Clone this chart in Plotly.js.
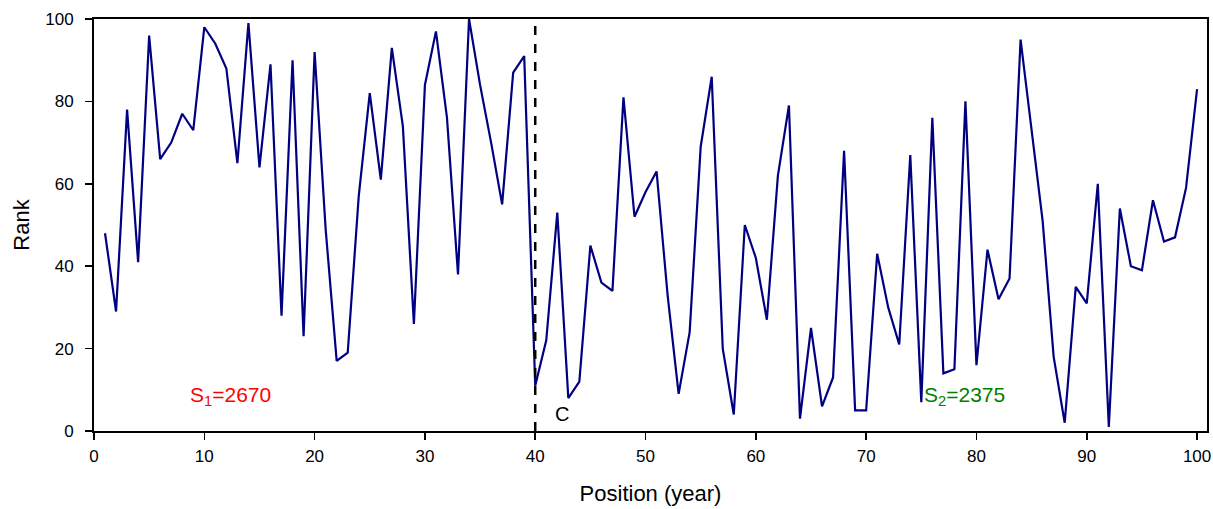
<!DOCTYPE html>
<html>
<head>
<meta charset="utf-8">
<script src="https://cdn.plot.ly/plotly-3.0.1.min.js"></script>
<style>html,body{margin:0;padding:0;background:#fff;}#chart{width:1213px;height:509px;}</style>
</head>
<body>
<div id="chart"></div>
<script>
const positions = [1,2,3,4,5,6,7,8,9,10,11,12,13,14,15,16,17,18,19,20,21,22,23,24,25,26,27,28,29,30,31,32,33,34,35,36,37,38,39,40,41,42,43,44,45,46,47,48,49,50,51,52,53,54,55,56,57,58,59,60,61,62,63,64,65,66,67,68,69,70,71,72,73,74,75,76,77,78,79,80,81,82,83,84,85,86,87,88,89,90,91,92,93,94,95,96,97,98,99,100];
const ranks = [48,29,78,41,96,66,70,77,73,98,
               94,88,65,99,64,89,28,90,23,92,
               49,17,19,57,82,61,93,74,26,84,
               97,76,38,100,84,70,55,87,91,11,
               22,53,8,12,45,36,34,81,52,58,
               63,33,9,24,69,86,20,4,50,42,
               27,62,79,3,25,6,13,68,5,5,
               43,30,21,67,7,76,14,15,80,16,
               44,32,37,95,73,51,18,2,35,31,
               60,1,54,40,39,56,46,47,59,83];
const changePoint = 40;
const xTicks = [0,10,20,30,40,50,60,70,80,90,100];
const yTicks = [0,20,40,60,80,100];
const s1Label = "S<sub>1</sub>=2670";
const s2Label = "S<sub>2</sub>=2375";
const cLabel = "C";

const font = "Liberation Sans, Arial, sans-serif";

Plotly.newPlot("chart", [{
  x: positions, y: ranks, type: "scatter", mode: "lines",
  line: {color: "#000080", width: 2.2}, hoverinfo: "x+y"
}], {
  width: 1213, height: 509,
  margin: {l: 94, r: 6, t: 19, b: 78},
  paper_bgcolor: "#fff", plot_bgcolor: "#fff",
  showlegend: false,
  font: {family: font, color: "#000", size: 17},
  xaxis: {
    range: [0, 100.9], tickvals: xTicks, ticktext: xTicks.map(String),
    showgrid: false, zeroline: false, showline: true, mirror: true,
    linecolor: "#000", linewidth: 2, ticks: "outside", ticklen: 7, tickwidth: 1.5, tickcolor: "#000",
    tickfont: {size: 17, family: font}, ticklabelstandoff: 2,
    title: {text: "Position (year)", font: {size: 22, family: font}, standoff: 20}
  },
  yaxis: {
    range: [0, 100], tickvals: yTicks, ticktext: yTicks.map(String),
    showgrid: false, zeroline: false, showline: true, mirror: true,
    linecolor: "#000", linewidth: 2, ticks: "outside", ticklen: 7, tickwidth: 1.5, tickcolor: "#000",
    tickfont: {size: 17, family: font}, ticklabelstandoff: 8,
    title: {text: "Rank", font: {size: 22, family: font}, standoff: 10}
  },
  shapes: [{
    type: "line", xref: "x", yref: "y", x0: changePoint, x1: changePoint, y0: 0, y1: 100,
    line: {color: "#000", width: 2.5, dash: "dash"}
  }],
  annotations: [
    {x: 12.4, y: 8.5, xref: "x", yref: "y", text: s1Label, showarrow: false, font: {size: 21, color: "#ff0000", family: font}},
    {x: 78.9, y: 8.5, xref: "x", yref: "y", text: s2Label, showarrow: false, font: {size: 21, color: "#008000", family: font}},
    {x: 42.4, y: 4.2, xref: "x", yref: "y", text: cLabel, showarrow: false, font: {size: 20, color: "#000", family: font}}
  ]
}, {displayModeBar: false, staticPlot: true});
</script>
</body>
</html>
